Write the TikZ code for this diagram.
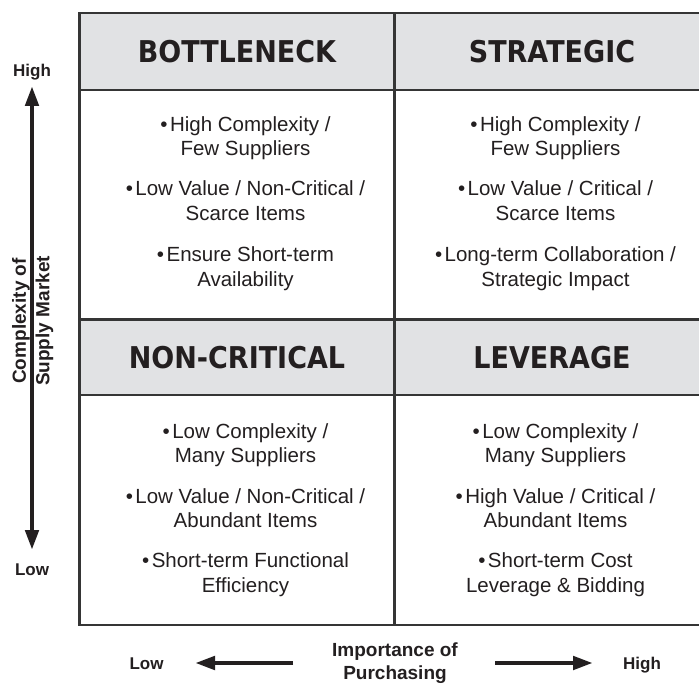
\documentclass[tikz,border=0pt]{standalone}
\usepackage{fontspec}
\setmainfont{Liberation Sans}
\newfontfamily\headfont[FakeStretch=0.9]{DejaVu Sans}
\usetikzlibrary{arrows.meta}

\definecolor{gridline}{HTML}{353535}
\definecolor{bandfill}{HTML}{E1E2E4}
\definecolor{ink}{HTML}{231F20}

% fixed line struts so that multi-line nodes sit on predictable baselines
\newcommand\itemstrut{\rule[-5pt]{0pt}{18pt}}
\newcommand\axisstrut{\rule[-4.5pt]{0pt}{17pt}}

\begin{document}
\begin{tikzpicture}[x=1pt,y=-1pt,
  frame/.style={draw=gridline, line width=2.4pt},
  head/.style={font=\headfont\bfseries\fontsize{30}{30}\selectfont, text=ink, inner sep=0pt},
  item/.style={font=\fontsize{20.5}{24.8}\selectfont, text=ink, align=center, inner sep=0pt},
  axislabel/.style={font=\bfseries\fontsize{17}{20}\selectfont, text=ink, inner sep=0pt},
  axistitle/.style={font=\bfseries\fontsize{19}{23.3}\selectfont, text=ink, align=center, inner sep=0pt},
  axisarrow/.style={draw=ink, line width=4.6pt},
  tip/.tip={Triangle[length=20pt,width=13pt]}
]
\useasboundingbox (0,0) rectangle (699,684);
\fill[white] (0,0) rectangle (699,684);

% header bands
\fill[bandfill] (79.5,13) rectangle (708,90);
\fill[bandfill] (79.5,319.5) rectangle (708,395);

% grid
\draw[frame] (79.5,13) rectangle (708,625);
\draw[frame] (79.5,90) -- (708,90);
\draw[frame] (79.5,319.5) -- (708,319.5);
\draw[frame] (79.5,395) -- (708,395);
\draw[frame] (394.5,13) -- (394.5,625);

% quadrant titles
\node[head] (bottleneck)  at (237,52)  {BOTTLENECK};
\node[head] (strategic)   at (552,52)  {STRATEGIC};
\node[head] (noncritical) at (237,358) {NON-CRITICAL};
\node[head] (leverage)    at (552,358) {LEVERAGE};

% bottleneck
\node[item] (b1) at (245.5,138.5) {\itemstrut•\hspace{2.5pt}High Complexity /\\\itemstrut Few Suppliers};
\node[item] (b2) at (245.5,203)   {\itemstrut•\hspace{2.5pt}Low Value / Non-Critical /\\\itemstrut Scarce Items};
\node[item] (b3) at (245.5,269)   {\itemstrut•\hspace{2.5pt}Ensure Short-term\\\itemstrut Availability};

% strategic
\node[item] (s1) at (555.5,138.5) {\itemstrut•\hspace{2.5pt}High Complexity /\\\itemstrut Few Suppliers};
\node[item] (s2) at (555.5,203)   {\itemstrut•\hspace{2.5pt}Low Value / Critical /\\\itemstrut Scarce Items};
\node[item] (s3) at (555.5,269)   {\itemstrut•\hspace{2.5pt}Long-term Collaboration /\\\itemstrut Strategic Impact};

% non-critical
\node[item] (n1) at (245.5,445.5) {\itemstrut•\hspace{2.5pt}Low Complexity /\\\itemstrut Many Suppliers};
\node[item] (n2) at (245.5,510.5) {\itemstrut•\hspace{2.5pt}Low Value / Non-Critical /\\\itemstrut Abundant Items};
\node[item] (n3) at (245.5,575)   {\itemstrut•\hspace{2.5pt}Short-term Functional\\\itemstrut Efficiency};

% leverage
\node[item] (l1) at (555.5,445.5) {\itemstrut•\hspace{2.5pt}Low Complexity /\\\itemstrut Many Suppliers};
\node[item] (l2) at (555.5,510.5) {\itemstrut•\hspace{2.5pt}High Value / Critical /\\\itemstrut Abundant Items};
\node[item] (l3) at (555.5,575)   {\itemstrut•\hspace{2.5pt}Short-term Cost\\\itemstrut Leverage \& Bidding};

% vertical axis
\coordinate (ytop) at (32,86);
\coordinate (ybot) at (32,550);
\draw[axisarrow, {tip}-{tip}] (ybot) -- (ytop);
\node[axislabel, anchor=base] (yhigh) at (32,76.5) {High};
\node[axislabel, anchor=base] (ylow)  at (32,575)  {Low};
\node[axistitle, rotate=90] (ytitle) at (33,321) {\axisstrut Complexity of\\\axisstrut Supply Market};

% horizontal axis
\coordinate (xlefttail)  at (293,663);
\coordinate (xlefttip)   at (195,663);
\coordinate (xrighttail) at (495,663);
\coordinate (xrighttip)  at (593,663);
\draw[axisarrow, -{tip}] (xlefttail) -- (xlefttip);
\draw[axisarrow, -{tip}] (xrighttail) -- (xrighttip);
\node[axislabel, anchor=base] (xlow)  at (146.5,669.5) {Low};
\node[axislabel, anchor=base] (xhigh) at (642,669.5)   {High};
\node[axistitle] (xtitle) at (395,663.5) {\axisstrut Importance of\\\axisstrut Purchasing};
\end{tikzpicture}
\end{document}
